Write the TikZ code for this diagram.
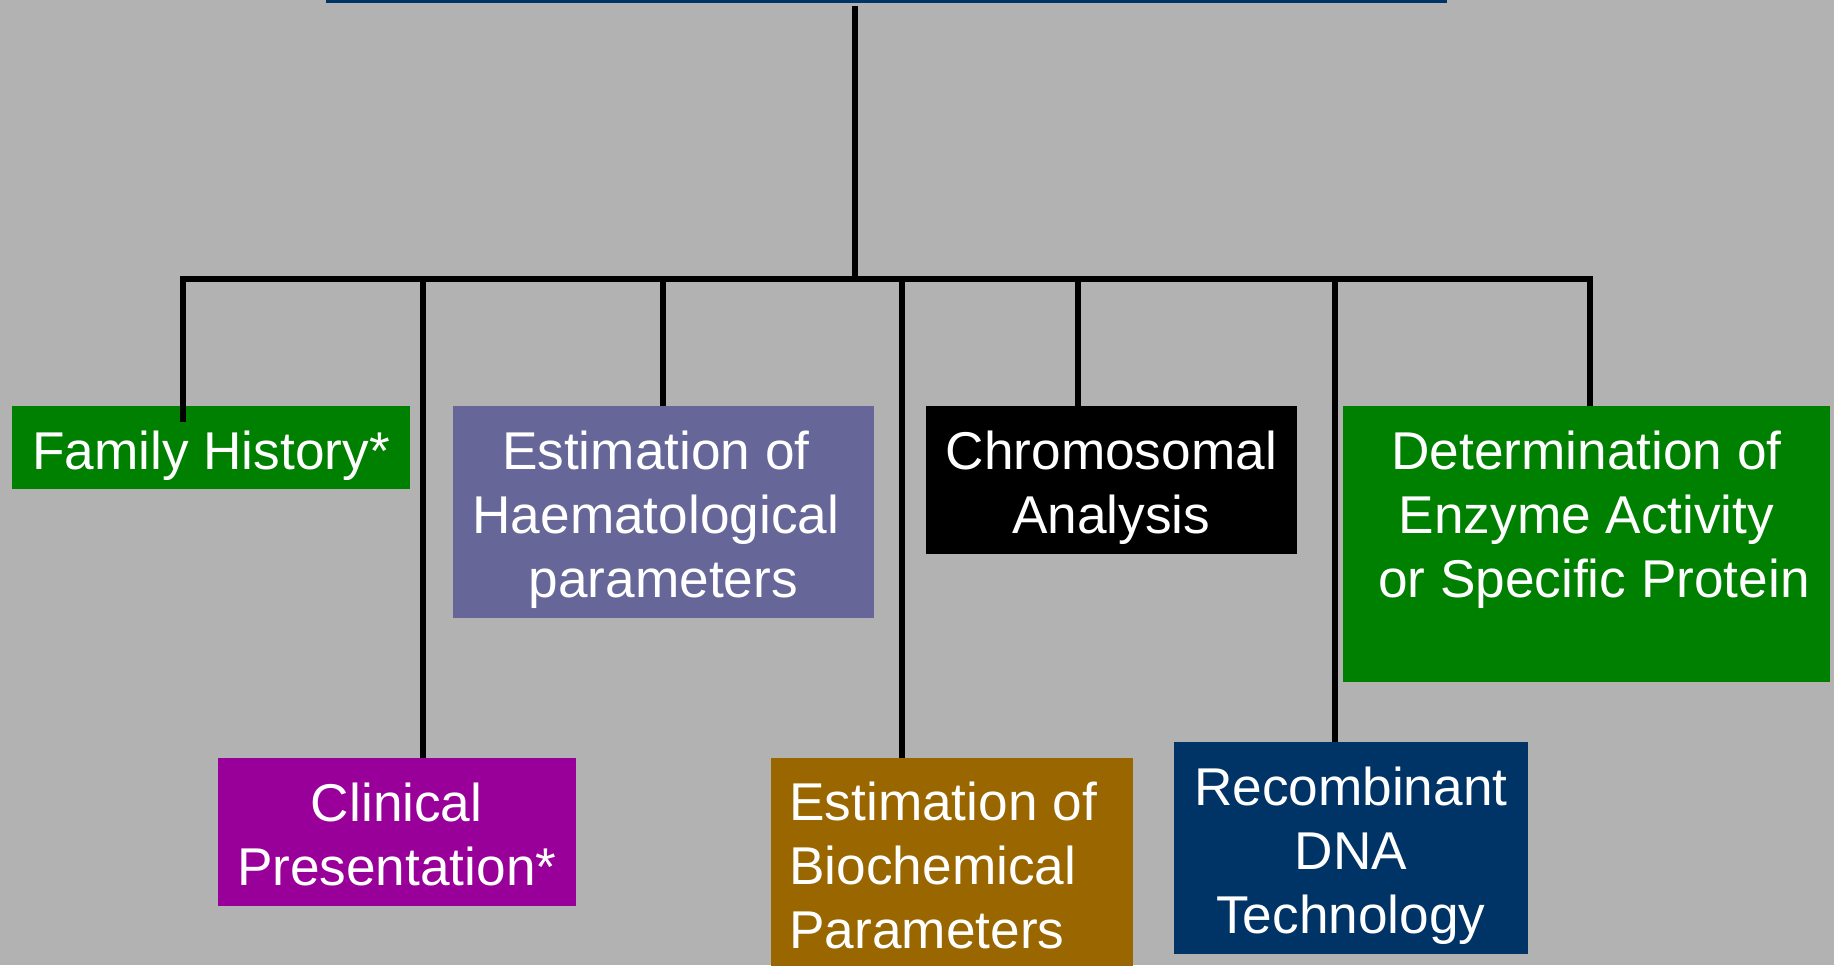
\documentclass[tikz,border=0pt]{standalone}
\usepackage{fontspec}
\setmainfont{Liberation Sans}
\definecolor{bggray}{RGB}{178,178,178}
\definecolor{boxgreen}{RGB}{0,128,0}
\definecolor{boxslate}{RGB}{102,102,153}
\definecolor{boxmagenta}{RGB}{153,0,153}
\definecolor{boxochre}{RGB}{153,102,0}
\definecolor{boxnavy}{RGB}{0,51,102}
\begin{document}
\begin{tikzpicture}[x=0.5pt,y=-0.5pt,
  box/.style={rectangle, inner sep=0pt, draw=none, anchor=north west},
  lbl/.style={text=white, inner sep=0pt, anchor=north, align=center,
              font=\fontsize{26.6}{32}\selectfont},
  wire/.style={draw=black, line width=3pt, line join=miter}]
\useasboundingbox (0,0) rectangle (1834,965);
\clip (0,0) rectangle (1834,965);
\fill[bggray] (0,0) rectangle (1834,965);

% header bar along the top edge
\node[box, anchor=south west, fill=boxnavy, minimum width=560.5pt, minimum height=12pt] (title) at (326,3) {};

% boxes
\node[box, fill=boxgreen,   minimum width=199pt,    minimum height=41.5pt]  (fam)   at (12,406)    {};
\node[box, fill=boxmagenta, minimum width=179.35pt, minimum height=73.85pt] (clin)  at (217.3,758) {};
\node[box, fill=boxslate,   minimum width=210.85pt, minimum height=105.85pt](haem)  at (452.3,406) {};
\node[box, fill=boxochre,   minimum width=180.85pt, minimum height=121pt]   (bio)   at (771,758)   {};
\node[box, fill=black,      minimum width=185.35pt, minimum height=73.85pt] (chrom) at (926,406)   {};
\node[box, fill=boxnavy,    minimum width=176.85pt, minimum height=106pt]   (rdna)  at (1174,742)  {};
\node[box, fill=boxgreen,   minimum width=243.5pt,  minimum height=137.75pt](enz)   at (1343,406)  {};

% labels
\node[lbl] (tfam) at (211,430.5) {Family History*};
\node[lbl] (tclin) at (396.7,782.2) {Clinical\\Presentation*};
\node[lbl] (thaem) at (663.2,430.5) {Estimation of\rule{.278em}{0pt}\\Haematological\rule{.278em}{0pt}\\parameters};
\node[lbl, anchor=north west, align=left] (tbio) at (789,781.5) {Estimation of\\Biochemical\\Parameters};
\node[lbl] (tchrom) at (1111.3,430.5) {Chromosomal\\Analysis};
\node[lbl] (trdna) at (1350.8,766.2) {Recombinant\\DNA\\Technology};
\node[lbl] (tenz) at (1586.5,430.5) {Determination of\\Enzyme Activity\\\rule{.278em}{0pt}or Specific Protein};

% connectors
\coordinate (hub) at (854.7,279);
\coordinate (bF) at (182.5,279);
\coordinate (bC) at (422.5,279);
\coordinate (bH) at (662.5,279);
\coordinate (bB) at (902.3,279);
\coordinate (bX) at (1078.3,279);
\coordinate (bR) at (1334.5,279);
\coordinate (bE) at (1590,279);

\draw[wire] ([yshift=-1.5pt]hub |- title.south) -- (hub);
\draw[wire] ([yshift=-7.85pt]bF |- fam.north) -- (bF) -- (bE) -- (bE |- enz.north);
\draw[wire] (bC) -- (bC |- clin.north);
\draw[wire] (bH) -- (bH |- haem.north);
\draw[wire] (bB) -- (bB |- bio.north);
\draw[wire] (bX) -- (bX |- chrom.north);
\draw[wire] (bR) -- (bR |- rdna.north);
\end{tikzpicture}
\end{document}
